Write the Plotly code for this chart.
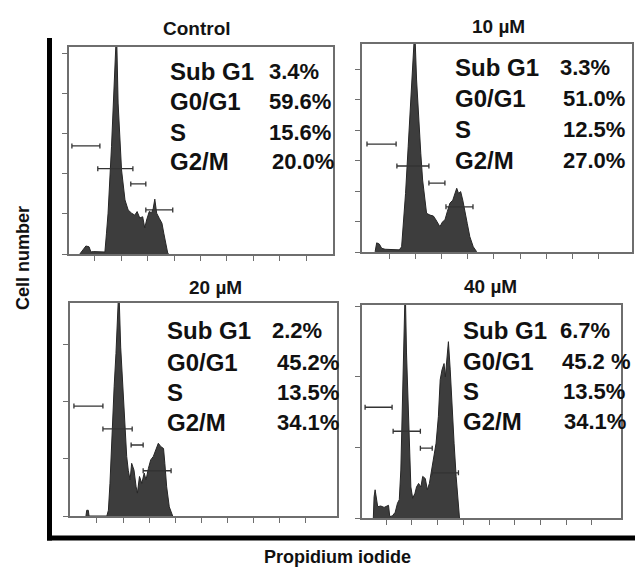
import plotly.graph_objects as go

W, H = 635, 568

# ---------------- data ----------------
panel_titles = ["Control", "10 µM", "20 µM", "40 µM"]
phase_labels = ["Sub G1", "G0/G1", "S", "G2/M"]
ctrl_values = ["3.4%", "59.6%", "15.6%", "20.0%"]
um10_values = ["3.3%", "51.0%", "12.5%", "27.0%"]
um20_values = ["2.2%", "45.2%", "13.5%", "34.1%"]
um40_values = ["6.7%", "45.2 %", "13.5%", "34.1%"]

# histogram traces (PI channel, relative cell count)
ctrl_x = [0.43, 0.60, 0.66, 0.78, 0.85, 0.94, 1.20, 1.31, 1.38, 1.44, 1.50, 1.63, 1.72, 1.82, 1.88, 1.95,
          2.01, 2.14, 2.26, 2.39, 2.51, 2.60, 2.70, 2.81, 2.89, 2.96, 3.06, 3.15, 3.21, 3.27, 3.34, 3.44,
          3.54, 3.61, 3.69, 3.76, 3.80]
ctrl_y = [0.0, 0.15, 0.2, 0.18, 0.05, 0.06, 0.06, 0.06, 0.05, 0.52, 1.02, 2.68, 3.77, 5.6, 3.77, 2.68,
          2.1, 1.35, 1.1, 1.02, 0.97, 1.06, 0.9, 0.93, 0.65, 0.85, 1.06, 1.03, 1.14, 1.37, 1.02, 0.89,
          0.77, 0.52, 0.27, 0.02, 0.0]

um10_x = [0.47, 0.53, 0.63, 0.72, 0.85, 1.16, 1.39, 1.48, 1.54, 1.63, 1.73, 1.82, 1.90, 1.98, 2.05, 2.13,
          2.21, 2.28, 2.36, 2.43, 2.56, 2.69, 2.79, 2.88, 2.94, 3.04, 3.13, 3.22, 3.32, 3.43, 3.51, 3.58,
          3.65, 3.73, 3.81, 3.89, 3.98, 4.08, 4.21, 4.34]
um10_y = [0.01, 0.3, 0.26, 0.12, 0.09, 0.07, 0.07, 0.17, 0.83, 1.92, 3.45, 4.87, 5.97, 7.3, 5.64, 4.33,
          3.24, 2.36, 1.7, 1.27, 1.21, 1.18, 1.05, 0.89, 0.83, 0.99, 1.05, 1.32, 1.6, 1.7, 1.92, 2.09,
          1.92, 1.98, 1.7, 1.27, 0.94, 0.5, 0.17, 0.01]

um20_x = [0.58, 0.61, 0.67, 0.70, 1.38, 1.44, 1.50, 1.57, 1.66, 1.73, 1.84, 1.91, 1.99, 2.07, 2.14, 2.20,
          2.27, 2.33, 2.42, 2.50, 2.55, 2.63, 2.72, 2.81, 2.88, 2.97, 3.06, 3.16, 3.27, 3.35, 3.45, 3.55,
          3.60, 3.67, 3.77, 3.90]
um20_y = [0.0, 0.1, 0.1, 0.0, 0.0, 0.1, 0.57, 1.38, 2.26, 2.84, 4.0, 2.95, 2.26, 1.62, 1.04, 0.8,
          0.63, 0.92, 0.8, 0.51, 0.4, 0.69, 0.57, 0.75, 0.63, 0.83, 0.98, 1.04, 1.18, 1.27, 1.21, 1.18,
          0.92, 0.51, 0.16, 0.0]

um40_x = [0.50, 0.53, 0.57, 0.62, 0.67, 0.79, 0.92, 1.09, 1.14, 1.24, 1.35, 1.44, 1.51, 1.57, 1.63, 1.69,
          1.74, 1.79, 1.85, 1.90, 1.96, 2.03, 2.12, 2.18, 2.26, 2.35, 2.42, 2.52, 2.60, 2.68, 2.76, 2.83,
          2.94, 3.03, 3.10, 3.17, 3.25, 3.30, 3.35, 3.42, 3.49, 3.56, 3.64, 3.72, 3.80, 3.85]
um40_y = [0.0, 0.3, 0.4, 0.26, 0.16, 0.17, 0.15, 0.18, 0.02, 0.03, 0.08, 0.21, 0.26, 0.68, 1.63, 2.43,
          3.3, 2.34, 1.63, 1.01, 0.44, 0.28, 0.35, 0.44, 0.49, 0.44, 0.59, 0.56, 0.4, 0.49, 0.68, 0.82,
          1.06, 1.44, 1.96, 2.1, 2.19, 2.0, 2.24, 2.5, 2.1, 1.53, 1.06, 0.59, 0.21, 0.0]

# gate markers: (start, end, level)
ctrl_gates = [(0.13, 1.19, 2.70), (1.11, 2.44, 2.13), (2.36, 2.93, 1.75), (2.93, 3.95, 1.10)]
um10_gates = [(0.16, 1.27, 3.54), (1.30, 2.52, 2.82), (2.52, 3.13, 2.26), (3.17, 4.20, 1.48)]
um20_gates = [(0.12, 1.23, 1.92), (1.23, 2.35, 1.52), (2.31, 2.77, 1.24), (2.77, 3.84, 0.79)]
um40_gates = [(0.18, 1.23, 1.57), (1.27, 2.33, 1.23), (2.33, 2.79, 0.99), (2.79, 3.81, 0.64)]

x_ticks = [1, 2, 3, 4, 5, 6, 7, 8, 9]

# ---------------- layout helpers (pixel geometry) ----------------
def px(x):
    return x / W

def py(y):
    return 1 - y / H

panels = [
    dict(x=ctrl_x, y=ctrl_y, gates=ctrl_gates, values=ctrl_values, title=panel_titles[0],
         box=(69, 333, 47, 254), xr=[0.02, 10.02], yr=[0, 5.17], yt=[0, 1, 2, 3, 4, 5],
         tpos=(197, 29), lab_x=168, rows=[71, 102, 132, 162],
         vals=[("l", 267), ("r", 333), ("r", 333), ("r", 336)]),
    dict(x=um10_x, y=um10_y, gates=um10_gates, values=um10_values, title=panel_titles[1],
         box=(362, 632, 44, 252), xr=[-0.03, 10.26], yr=[0, 6.82], yt=[0, 1, 2, 3, 4, 5, 6],
         tpos=(498, 27), lab_x=453, rows=[67, 99, 129, 160],
         vals=[("l", 558), ("r", 627), ("r", 627), ("r", 627)]),
    dict(x=um20_x, y=um20_y, gates=um20_gates, values=um20_values, title=panel_titles[2],
         box=(70, 337, 303, 516), xr=[-0.03, 10.19], yr=[0, 3.72], yt=[0, 1, 2, 3],
         tpos=(215, 287), lab_x=165, rows=[331, 362, 392, 422],
         vals=[("l", 270), ("r", 341), ("r", 341), ("r", 341)]),
    dict(x=um40_x, y=um40_y, gates=um40_gates, values=um40_values, title=panel_titles[3],
         box=(362, 621, 305, 518), xr=[0.06, 10.13], yr=[0, 3.02], yt=[0, 1, 2, 3],
         tpos=(490, 286), lab_x=461, rows=[331, 361, 391, 421],
         vals=[("l", 558), ("r", 633), ("r", 627), ("r", 628)]),
]

FONT = "Liberation Sans, Arial, sans-serif"
BOXCOL = "#6e6e6e"

fig = go.Figure()
annotations = []
layout_axes = {}

for i, p in enumerate(panels):
    n = i + 1
    xa = "x" if n == 1 else f"x{n}"
    ya = "y" if n == 1 else f"y{n}"
    x0, x1, y0, y1 = p["box"]

    fig.add_trace(go.Scatter(
        x=p["x"], y=p["y"], xaxis=xa, yaxis=ya, mode="lines",
        line=dict(color="#262626", width=1), fill="tozeroy", fillcolor="#3d3d3d",
        showlegend=False, hoverinfo="skip"))

    gx = [(a + b) / 2 for a, b, _ in p["gates"]]
    gy = [c for _, _, c in p["gates"]]
    ge = [(b - a) / 2 for a, b, _ in p["gates"]]
    fig.add_trace(go.Scatter(
        x=gx, y=gy, xaxis=xa, yaxis=ya, mode="markers",
        marker=dict(size=1, color="rgba(0,0,0,0)"),
        error_x=dict(type="data", array=ge, symmetric=True, width=2.5, thickness=1.3, color="#333333"),
        showlegend=False, hoverinfo="skip"))

    axkey_x = "xaxis" if n == 1 else f"xaxis{n}"
    axkey_y = "yaxis" if n == 1 else f"yaxis{n}"
    layout_axes[axkey_x] = dict(
        domain=[px(x0), px(x1)], range=p["xr"], anchor=ya,
        tickvals=x_ticks, ticks="outside", ticklen=5, tickwidth=1.3, tickcolor=BOXCOL,
        showticklabels=False, showgrid=False, zeroline=False,
        showline=True, mirror=True, linecolor=BOXCOL, linewidth=1.6)
    layout_axes[axkey_y] = dict(
        domain=[py(y1), py(y0)], range=p["yr"], anchor=xa,
        tickvals=p["yt"], ticks="outside", ticklen=5, tickwidth=1.3, tickcolor=BOXCOL,
        showticklabels=False, showgrid=False, zeroline=False,
        showline=True, mirror=True, linecolor=BOXCOL, linewidth=1.6)

    annotations.append(dict(
        text=p["title"], x=px(p["tpos"][0]), y=py(p["tpos"][1]), xref="paper", yref="paper",
        xanchor="center", yanchor="middle", showarrow=False,
        font=dict(family=FONT, size=19, color="#141414", weight="bold")))

    for lab, val, (al, vx), ry in zip(phase_labels, p["values"], p["vals"], p["rows"]):
        annotations.append(dict(
            text=lab, x=px(p["lab_x"]), y=py(ry), xref="paper", yref="paper",
            xanchor="left", yanchor="middle", showarrow=False,
            font=dict(family=FONT, size=24, color="#111111", weight="bold")))
        annotations.append(dict(
            text=val, x=px(vx), y=py(ry), xref="paper", yref="paper",
            xanchor="left" if al == "l" else "right", yanchor="middle", showarrow=False,
            font=dict(family=FONT, size=22, color="#111111", weight="bold")))

annotations.append(dict(
    text="Cell number", x=px(23), y=py(258), xref="paper", yref="paper",
    xanchor="center", yanchor="middle", showarrow=False, textangle=-90,
    font=dict(family=FONT, size=18, color="#111111", weight="bold")))
annotations.append(dict(
    text="Propidium iodide", x=px(337), y=py(557), xref="paper", yref="paper",
    xanchor="center", yanchor="middle", showarrow=False,
    font=dict(family=FONT, size=18, color="#111111", weight="bold")))

shapes = [
    dict(type="line", xref="paper", yref="paper", x0=px(49.5), x1=px(49.5), y0=py(38), y1=py(540.5),
         line=dict(color="black", width=5)),
    dict(type="line", xref="paper", yref="paper", x0=px(47), x1=px(635), y0=py(538), y1=py(538),
         line=dict(color="black", width=5)),
]

fig.update_layout(
    width=W, height=H, margin=dict(l=0, r=0, t=0, b=0),
    paper_bgcolor="white", plot_bgcolor="white",
    annotations=annotations, shapes=shapes, showlegend=False,
    **layout_axes)

fig.write_html("out.html")
